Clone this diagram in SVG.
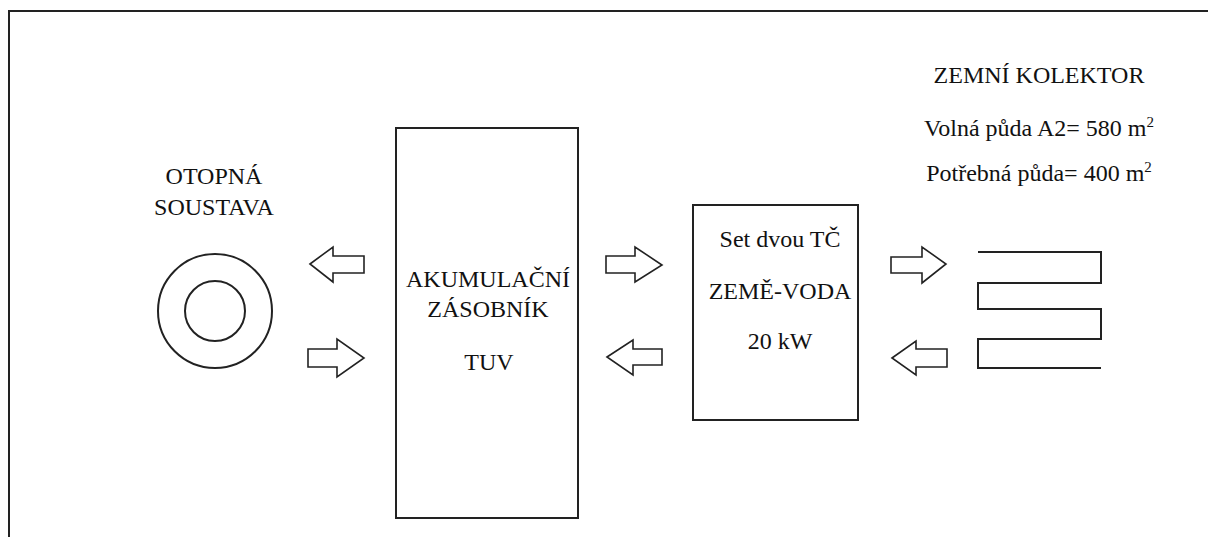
<svg xmlns="http://www.w3.org/2000/svg" width="1208" height="537" viewBox="0 0 1208 537">
<style>
.t{font-size:24px;fill:#111;text-anchor:middle}
.sh{fill:none;stroke:#222;stroke-width:2}
.ar{fill:#fff;stroke:#222;stroke-width:1.6;stroke-linejoin:miter}
.sup{font-size:15px}
</style>
<rect width="1208" height="537" fill="#fff"/>
<g id="frame">
<path class="sh" d="M9,537 V11 H1208" stroke-width="1.6"/>
</g>
<g font-family="'Liberation Serif', 'Times New Roman', 'DejaVu Serif', serif">
<g id="otopna-soustava">
<circle class="sh" cx="215" cy="311" r="57"/>
<circle class="sh" cx="215" cy="311" r="30"/>
<text class="t" x="214" y="184">OTOPNÁ</text>
<text class="t" x="214" y="215">SOUSTAVA</text>
</g>
<g id="akumulacni-zasobnik">
<rect class="sh" x="396" y="128" width="182" height="390"/>
<text class="t" x="488" y="287">AKUMULAČNÍ</text>
<text class="t" x="488" y="317">ZÁSOBNÍK</text>
<text class="t" x="489" y="370">TUV</text>
</g>
<g id="tepelne-cerpadlo">
<rect class="sh" x="693" y="205" width="165" height="215"/>
<text class="t" x="780" y="247">Set dvou TČ</text>
<text class="t" x="780" y="299">ZEMĚ-VODA</text>
<text class="t" x="780" y="349">20 kW</text>
</g>
<g id="zemni-kolektor">
<path class="sh" d="M978,252 H1101 V283 H978 V309 H1101 V339 H978 V368 H1101"/>
<text class="t" x="1039" y="83">ZEMNÍ KOLEKTOR</text>
<text class="t" x="1039" y="136">Volná půda A2= 580 m<tspan class="sup" dy="-9">2</tspan></text>
<text class="t" x="1039" y="181">Potřebná půda= 400 m<tspan class="sup" dy="-9">2</tspan></text>
</g>
</g>
<g id="connectors">
<polygon class="ar" points="310,264 333,247 333,256 364,256 364,273 333,273 333,282"/>
<polygon class="ar" points="308,349 337,349 337,339 364,358 337,377 337,367 308,367"/>
<polygon class="ar" points="606,256 635,256 635,247 662,265 635,282 635,273 606,273"/>
<polygon class="ar" points="607,357 633,340 633,349 662,349 662,365 633,365 633,375"/>
<polygon class="ar" points="891,257 922,257 922,247 946,264 922,283 922,273 891,273"/>
<polygon class="ar" points="892,358 916,341 916,349 947,349 947,367 916,367 916,375"/>
</g>
</svg>
